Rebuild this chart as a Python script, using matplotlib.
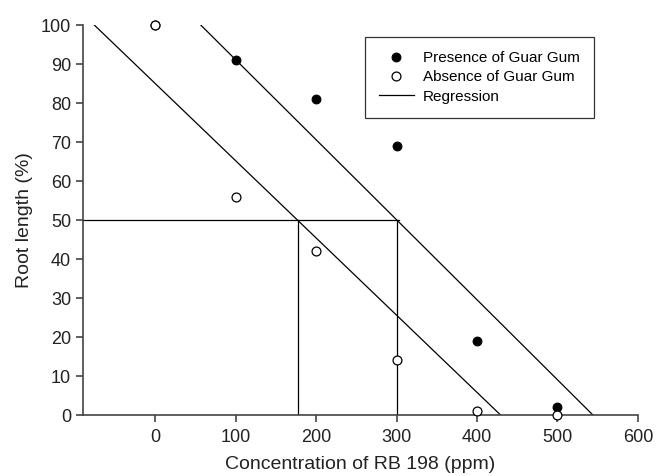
import numpy as np
import matplotlib.pyplot as plt

plt.rcParams['font.family'] = ['Liberation Sans', 'DejaVu Sans']

# data
conc_presence = np.array([0, 100, 200, 300, 400, 500])
root_presence = np.array([100, 91, 81, 69, 19, 2])
conc_absence = np.array([0, 100, 200, 300, 400, 500])
root_absence = np.array([100, 56, 42, 14, 1, 0])

xticks = [0, 100, 200, 300, 400, 500, 600]
yticks = [0, 10, 20, 30, 40, 50, 60, 70, 80, 90, 100]

fig = plt.figure(figsize=(6.59, 4.76), dpi=100)
ax = fig.add_axes([0.126, 0.128, 0.842, 0.819])

# regression lines, clipped to 0..100 %
fits = []
for x, y in [(conc_presence, root_presence), (conc_absence, root_absence)]:
    m, b = np.polyfit(x, y, 1)
    fits.append((m, b))
    xs = np.array([(100 - b) / m, -b / m])
    ax.plot(xs, m * xs + b, color='black', lw=0.9, zorder=2)

# 50 % crosshair lines
x50 = [(50 - b) / m for m, b in fits]
ax.plot([-90, max(x50) + 3], [50, 50], color='black', lw=0.9, zorder=2)
for xv in x50:
    ax.plot([xv, xv], [0, 50], color='black', lw=0.9, zorder=2)

ax.plot(conc_presence, root_presence, 'o', color='black', ms=6.3, mew=0.8,
        ls='none', zorder=3, clip_on=False, label='Presence of Guar Gum')
ax.plot(conc_absence, root_absence, 'o', mfc='white', mec='black', mew=0.9,
        ms=6.4, ls='none', zorder=4, clip_on=False, label='Absence of Guar Gum')
ax.plot([], [], color='black', lw=0.9, label='Regression')

ax.set_xlim(-90, 600)
ax.set_ylim(0, 100)
ax.set_xticks(xticks)
ax.set_yticks(yticks)
ax.spines['top'].set_visible(False)
ax.spines['right'].set_visible(False)
for s in ['left', 'bottom']:
    ax.spines[s].set_color('#444444')
    ax.spines[s].set_linewidth(1.2)
ax.tick_params(direction='out', length=5, width=1.2, color='#444444',
               labelsize=13, labelcolor='#222222')
ax.tick_params(axis='x', pad=5)
ax.set_xlabel('Concentration of RB 198 (ppm)', fontsize=14, color='#222222',
              labelpad=7)
ax.set_ylabel('Root length (%)', fontsize=14, color='#222222', labelpad=6)

leg = ax.legend(loc='upper left', bbox_to_anchor=(0.508, 0.969), fontsize=11,
                frameon=True, fancybox=False, edgecolor='black',
                borderaxespad=0, handlelength=2.3, borderpad=0.9,
                labelspacing=0.35, handletextpad=0.6)
leg.get_frame().set_linewidth(0.9)

fig.savefig('out.png', dpi=100)
